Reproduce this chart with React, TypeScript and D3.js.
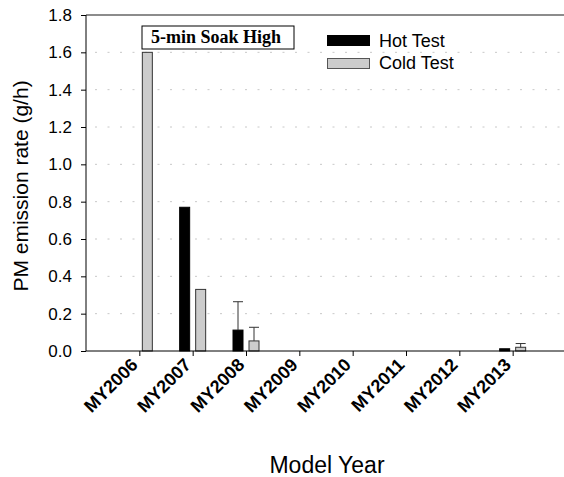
import * as d3 from "d3";
import { useEffect, useRef } from "react";

const categories = ["MY2006", "MY2007", "MY2008", "MY2009", "MY2010", "MY2011", "MY2012", "MY2013"];
const hotValues = [0, 0.77, 0.112, 0, 0, 0, 0, 0.012];
const hotErrors = [0, 0, 0.152, 0, 0, 0, 0, 0];
const coldValues = [1.6, 0.33, 0.054, 0, 0, 0, 0, 0.02];
const coldErrors = [0, 0, 0.073, 0, 0, 0, 0, 0.02];
const yTicks = [0, 0.2, 0.4, 0.6, 0.8, 1.0, 1.2, 1.4, 1.6, 1.8];

const sans = "Arial, 'Liberation Sans', sans-serif";

export default function App() {
  const svgRef = useRef<SVGSVGElement>(null);

  useEffect(() => {
    if (!svgRef.current) return;
    const root = d3.select(svgRef.current);
    root.selectAll("*").remove();

    const margin = { top: 15, left: 86 };
    const height = 336;
    const width = 480;

    const svg = root.append("g").attr("transform", `translate(${margin.left},${margin.top})`);

    // categories sit at 1..8 on a 0..9 axis
    const x = d3.scaleLinear().domain([0, 9]).range([0, width]);
    const y = d3.scaleLinear().domain([0, 1.8]).range([height, 0]);

    // grid lines
    svg
      .selectAll(".grid")
      .data(yTicks.filter((t) => t > 0 && t < 1.8))
      .enter()
      .append("line")
      .attr("x1", 9)
      .attr("x2", width)
      .attr("y1", (d) => y(d))
      .attr("y2", (d) => y(d))
      .attr("stroke", "#c8c8c8")
      .attr("stroke-width", 1)
      .attr("stroke-dasharray", "2,10.5");

    // top border
    svg
      .append("line")
      .attr("x1", 0)
      .attr("x2", width)
      .attr("y1", 0)
      .attr("y2", 0)
      .attr("stroke", "#666")
      .attr("stroke-width", 1.5);

    const barW = 10;
    const gap = 3;

    // hot bars
    svg
      .selectAll(".bar-hot")
      .data(hotValues)
      .enter()
      .append("rect")
      .attr("x", (_, i) => x(i + 1) - gap - barW)
      .attr("y", (d) => y(d))
      .attr("width", barW)
      .attr("height", (d) => height - y(d))
      .attr("fill", "#000")
      .attr("stroke", (d) => (d > 0 ? "#000" : "none"));

    // cold bars
    svg
      .selectAll(".bar-cold")
      .data(coldValues)
      .enter()
      .append("rect")
      .attr("x", (_, i) => x(i + 1) + gap)
      .attr("y", (d) => y(d))
      .attr("width", barW)
      .attr("height", (d) => height - y(d))
      .attr("fill", "#cccccc")
      .attr("stroke", (d) => (d > 0 ? "#333" : "none"))
      .attr("stroke-width", 1);

    // error bars (upper only)
    const drawErrors = (vals: number[], errs: number[], offset: number) => {
      vals.forEach((v, i) => {
        if (!errs[i]) return;
        const cx = x(i + 1) + offset;
        const top = y(v + errs[i]);
        svg.append("line").attr("x1", cx).attr("x2", cx).attr("y1", y(v)).attr("y2", top).attr("stroke", "#333");
        svg
          .append("line")
          .attr("x1", cx - barW / 2)
          .attr("x2", cx + barW / 2)
          .attr("y1", top)
          .attr("y2", top)
          .attr("stroke", "#333");
      });
    };
    drawErrors(hotValues, hotErrors, -gap - barW / 2);
    drawErrors(coldValues, coldErrors, gap + barW / 2);

    // y axis
    const yAxis = svg.append("g").call(
      d3
        .axisLeft(y)
        .tickValues(yTicks)
        .tickSize(5)
        .tickFormat((d) => d3.format(".1f")(d as number)),
    );
    yAxis.select(".domain").attr("stroke", "#000").attr("d", `M0,0V${height}`);
    yAxis
      .selectAll("text")
      .style("font-family", sans)
      .style("font-size", "17px")
      .attr("x", -14)
      .attr("fill", "#000");

    // x axis
    const xAxis = svg
      .append("g")
      .attr("transform", `translate(0,${height})`)
      .call(
        d3
          .axisBottom(x)
          .tickValues(d3.range(1, 9))
          .tickSize(5)
          .tickFormat((d) => categories[(d as number) - 1]),
      );
    xAxis.select(".domain").attr("stroke", "#000").attr("d", `M0,0H${width}`);
    xAxis
      .selectAll("text")
      .style("font-family", sans)
      .style("font-size", "18px")
      .style("font-weight", "bold")
      .style("text-anchor", "end")
      .attr("fill", "#000")
      .attr("y", 0)
      .attr("dy", 0)
      .attr("transform", "translate(-1,15) rotate(-45)");

    // axis titles
    root
      .append("text")
      .attr("transform", `translate(28,186) rotate(-90)`)
      .attr("text-anchor", "middle")
      .style("font-family", sans)
      .style("font-size", "21px")
      .text("PM emission rate (g/h)");

    root
      .append("text")
      .attr("x", 327)
      .attr("y", 473)
      .attr("text-anchor", "middle")
      .style("font-family", sans)
      .style("font-size", "23px")
      .text("Model Year");

    // annotation box
    const note = root.append("g");
    note
      .append("rect")
      .attr("x", 142)
      .attr("y", 26)
      .attr("width", 152)
      .attr("height", 23)
      .attr("fill", "#fff")
      .attr("stroke", "#000");
    note
      .append("text")
      .attr("x", 216)
      .attr("y", 43)
      .attr("text-anchor", "middle")
      .style("font-family", "'Liberation Serif', 'Times New Roman', serif")
      .style("font-size", "18px")
      .style("font-weight", "bold")
      .text("5-min Soak High");

    // legend
    const legend = root.append("g").attr("transform", "translate(327,35)");
    const items = [
      { label: "Hot Test", fill: "#000", stroke: "#000" },
      { label: "Cold Test", fill: "#cccccc", stroke: "#555" },
    ];
    items.forEach((it, i) => {
      legend
        .append("rect")
        .attr("x", 0.5)
        .attr("y", i * 23 + 0.5)
        .attr("width", 42)
        .attr("height", 10)
        .attr("fill", it.fill)
        .attr("stroke", it.stroke);
      legend
        .append("text")
        .attr("x", 52)
        .attr("y", i * 22 + 12)
        .style("font-family", sans)
        .style("font-size", "18px")
        .text(it.label);
    });
  }, []);

  return (
    <svg
      ref={svgRef}
      width={564}
      height={477}
      style={{ position: "absolute", left: 0, top: 0, background: "#fff" }}
    />
  );
}
